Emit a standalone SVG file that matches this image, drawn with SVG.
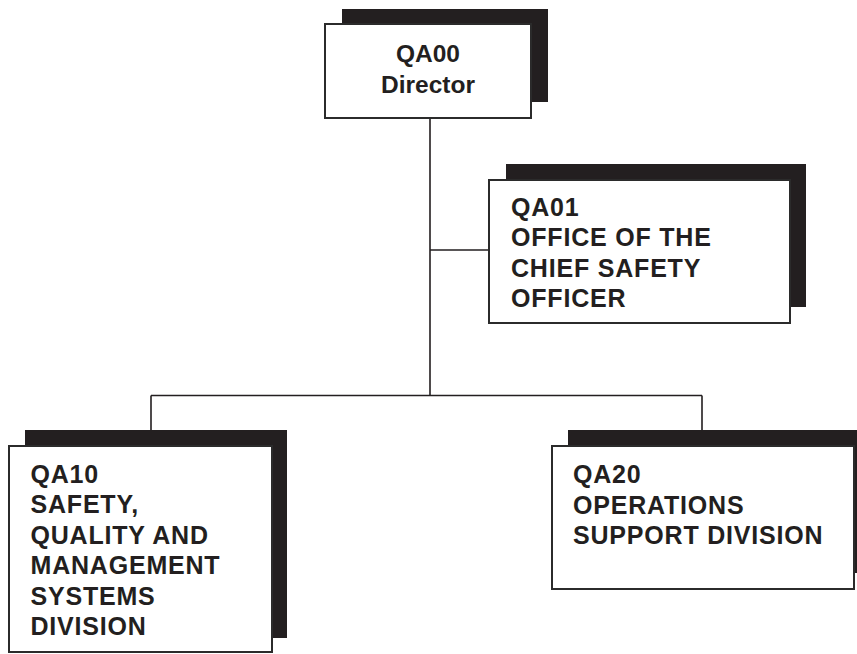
<svg xmlns="http://www.w3.org/2000/svg" width="857" height="654" viewBox="0 0 857 654">
<style>
.sh{fill:#231f20}
.bx{fill:#fff;stroke:#2b2b2b;stroke-width:2}
.ln{stroke:#231f20;stroke-width:1.6;fill:none}
.t{font-family:"Liberation Sans",Arial,sans-serif;font-weight:bold;font-size:25px;fill:#231f20;letter-spacing:0.8px}
.tc{font-family:"Liberation Sans",Arial,sans-serif;font-weight:bold;font-size:24.5px;fill:#231f20;text-anchor:middle}
</style>
<rect width="857" height="654" fill="#fff"/>
<g id="connectors">
<path class="ln" d="M430 118V395.5M430 250H489M151 395.5H702M151 395.5V430M702 395.5V430"/>
</g>
<g id="qa00">
<rect class="sh" x="342" y="9" width="206" height="93"/>
<rect class="bx" x="325" y="24" width="206" height="94"/>
<text class="tc" x="428" y="61.7">QA00</text>
<text class="tc" x="428" y="92.7">Director</text>
</g>
<g id="qa01">
<rect class="sh" x="506" y="164" width="300" height="143"/>
<rect class="bx" x="489" y="180" width="301" height="143"/>
<text class="t" x="511" y="215.7">QA01</text>
<text class="t" x="511" y="246">OFFICE OF THE</text>
<text class="t" x="511" y="276.5">CHIEF SAFETY</text>
<text class="t" x="511" y="306.7">OFFICER</text>
</g>
<g id="qa10">
<rect class="sh" x="25" y="430" width="262" height="208"/>
<rect class="bx" x="9" y="446" width="263" height="206"/>
<text class="t" x="30.5" y="482.7">QA10</text>
<text class="t" x="30.5" y="513">SAFETY,</text>
<text class="t" x="30.5" y="543.5">QUALITY AND</text>
<text class="t" x="30.5" y="574">MANAGEMENT</text>
<text class="t" x="30.5" y="604.5">SYSTEMS</text>
<text class="t" x="30.5" y="635">DIVISION</text>
</g>
<g id="qa20">
<rect class="sh" x="568" y="430" width="292" height="143"/>
<rect class="bx" x="552" y="446" width="302" height="143"/>
<text class="t" x="573" y="482.7">QA20</text>
<text class="t" x="573" y="513.5">OPERATIONS</text>
<text class="t" x="573" y="544">SUPPORT DIVISION</text>
</g>
</svg>
